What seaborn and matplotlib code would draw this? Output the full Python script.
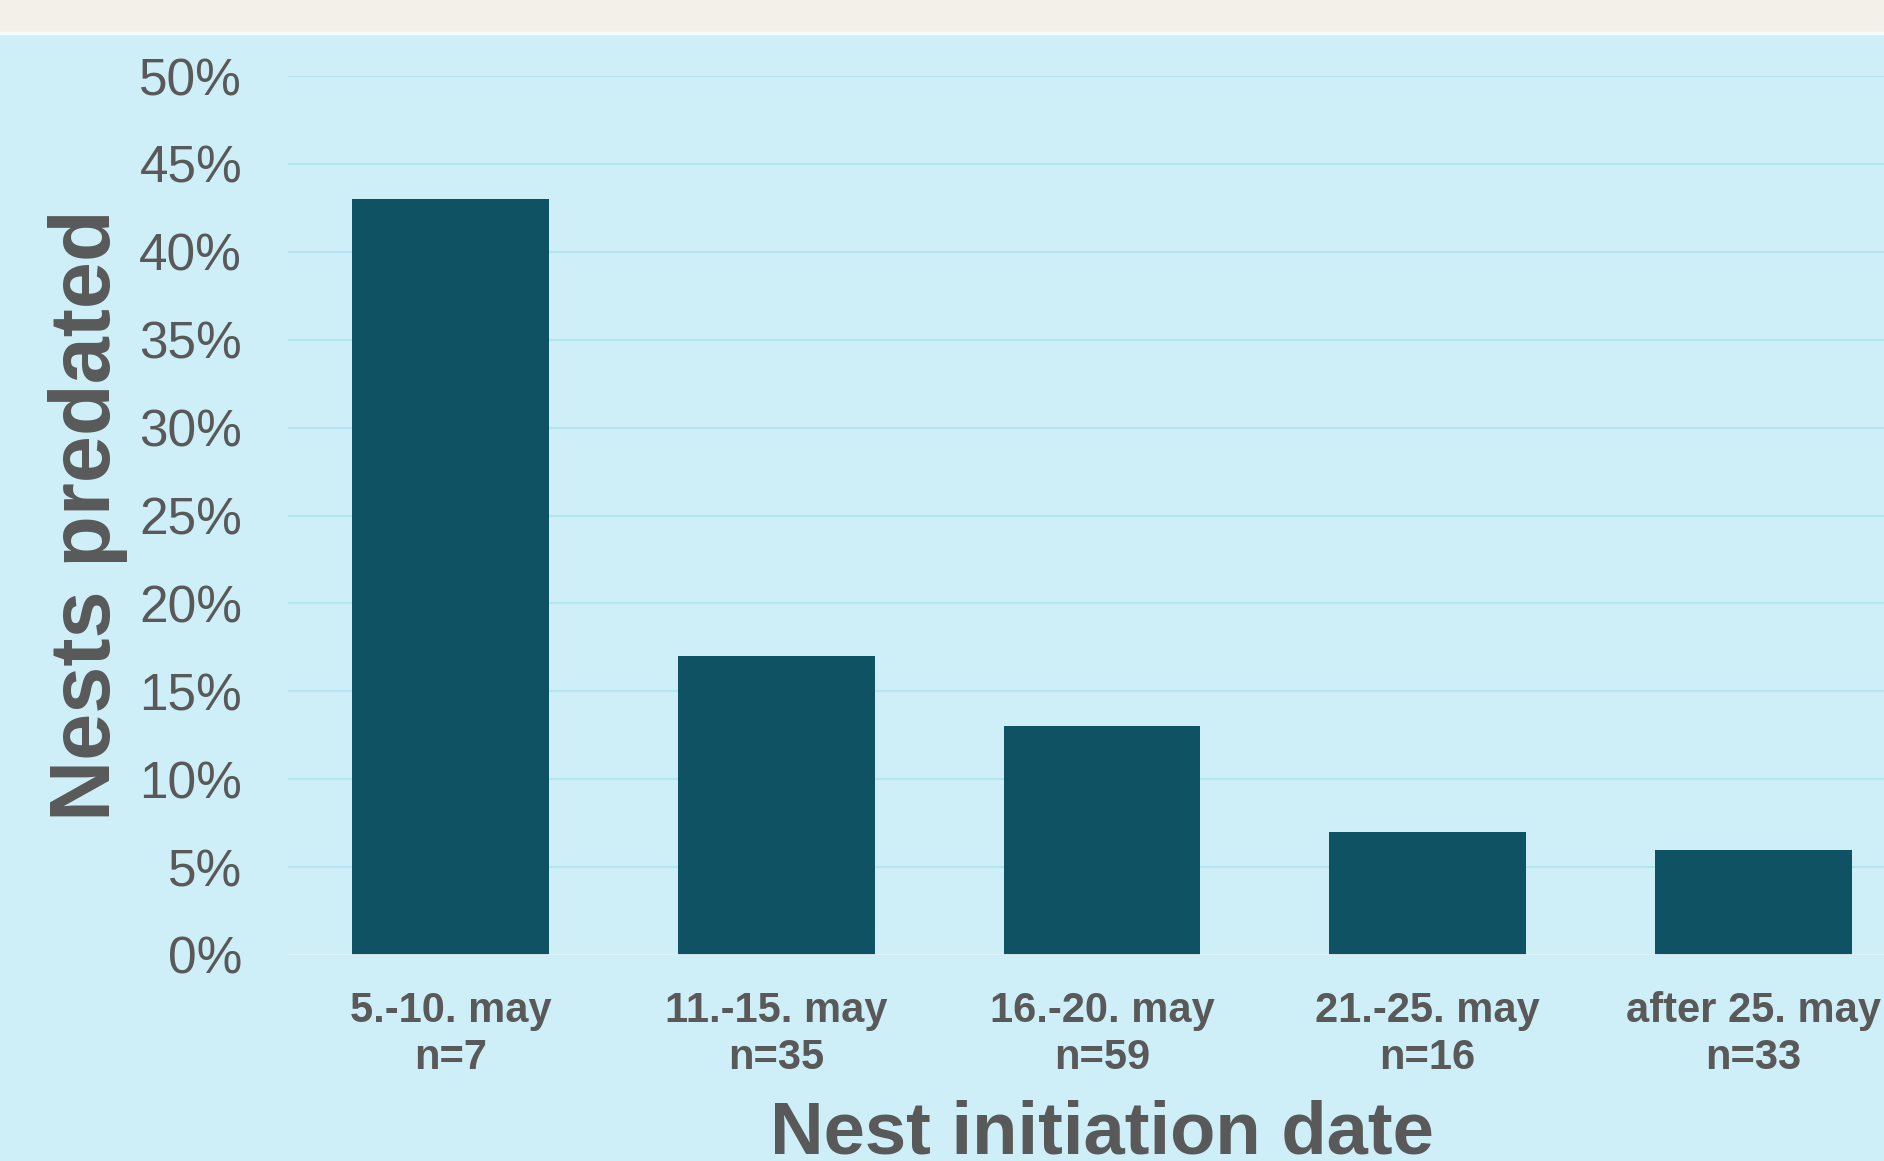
import matplotlib.pyplot as plt
import pandas as pd
import seaborn as sns
from matplotlib.patches import Rectangle
from matplotlib.ticker import PercentFormatter

# Data
periods = ["5.-10. may", "11.-15. may", "16.-20. may", "21.-25. may", "after 25. may"]
sample_sizes = [7, 35, 59, 16, 33]
pct_predated = [43, 17, 13, 7, 6]

BG = "#ceeff8"
STRIP = "#f3f0ea"
BAR = "#0f5263"
TEXT = "#595959"
GRID = "#b3e5ef"

sns.set_theme(style="white")
plt.rcParams["font.family"] = ["Liberation Sans", "DejaVu Sans"]

df = pd.DataFrame(
    {
        "label": [f"{p}\nn={n}" for p, n in zip(periods, sample_sizes)],
        "pct": pct_predated,
    }
)

W, H = 1884, 1161
fig = plt.figure(figsize=(W / 100, H / 100), dpi=100, facecolor=BG)

# beige strip across the top with a thin white edge
fig.patches.append(
    Rectangle((0, 1 - 32 / H), 1, 32 / H, transform=fig.transFigure, color=STRIP, zorder=0)
)
fig.patches.append(
    Rectangle((0, 1 - 34 / H), 1, 2 / H, transform=fig.transFigure, color="#f7fbfc", zorder=0)
)

# axes run past the right edge of the figure, like in the reference
ax_left, ax_right = 288, 1916
ax_bottom, ax_top = 955, 76
ax = fig.add_axes(
    [ax_left / W, (H - ax_bottom) / H, (ax_right - ax_left) / W, (ax_bottom - ax_top) / H]
)
ax.set_facecolor(BG)

sns.barplot(data=df, x="label", y="pct", color=BAR, width=0.605, saturation=1, ax=ax, zorder=3)
for p in ax.patches:
    p.set_edgecolor("none")

ax.set_xlim(-0.5, 4.5)
ax.set_ylim(0, 50)
ax.set_yticks(range(0, 51, 5))
ax.yaxis.set_major_formatter(PercentFormatter(decimals=0))
ax.grid(axis="y", color=GRID, linewidth=1.5, zorder=0)
ax.grid(axis="x", visible=False)
ax.axhline(0, color="#e2f6fb", linewidth=2, zorder=4)
sns.despine(ax=ax, left=True, bottom=True, right=True, top=True)

ax.tick_params(axis="y", length=0, pad=33, labelsize=37, labelcolor=TEXT)
ax.tick_params(axis="x", length=0, pad=26, labelsize=30, labelcolor=TEXT)
for t in ax.get_xticklabels():
    t.set_fontweight("bold")
    t.set_linespacing(1.22)

ax.set_ylabel("Nests predated", fontsize=61, fontweight="bold", color=TEXT)
ax.yaxis.set_label_coords(-0.0983, 0.5)
ax.set_xlabel("Nest initiation date", fontsize=53.5, fontweight="bold", color=TEXT)
ax.xaxis.set_label_coords(0.5, -0.164)

fig.savefig("out.png", dpi=100, facecolor=BG)
